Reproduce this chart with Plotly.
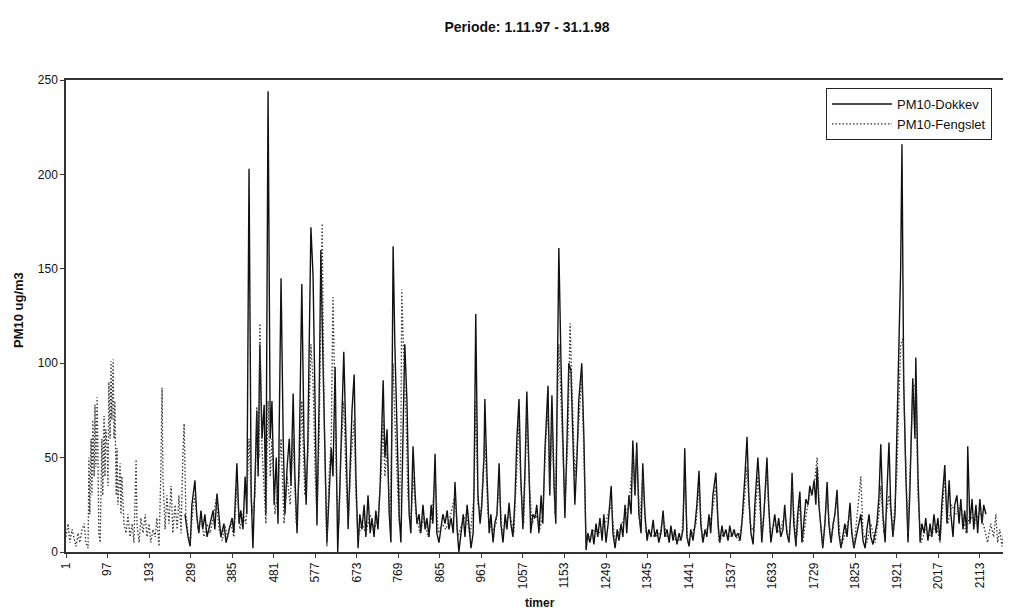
import plotly.graph_objects as go

# ---------------- data ----------------
tick_hours = list(range(1, 2114, 96))
tick_labels = [str(h) for h in tick_hours]
y_ticks = [0, 50, 100, 150, 200, 250]

dokkev_hours = [276, 283, 288, 292, 299, 303, 308, 313, 317, 322, 327, 334, 341, 345, 350, 355, 359, 366, 371, 378,
                385, 389, 396, 401, 405, 410, 415, 419, 424, 429, 433, 438, 442, 445, 449, 454, 459, 463, 468, 473,
                477, 482, 487, 491, 498, 503, 507, 512, 517, 521, 526, 530, 535, 540, 546, 551, 556, 560, 567, 572,
                577, 581, 586, 590, 595, 600, 604, 609, 614, 618, 623, 627, 629, 634, 639, 643, 648, 653, 657, 662,
                667, 671, 676, 680, 685, 690, 694, 699, 704, 708, 713, 717, 722, 727, 734, 738, 743, 748, 752, 757,
                761, 766, 771, 775, 780, 784, 789, 794, 798, 803, 808, 812, 817, 821, 826, 831, 835, 840, 845, 849,
                854, 858, 863, 868, 872, 877, 882, 886, 891, 896, 900, 905, 909, 914, 919, 923, 928, 932, 937, 942,
                944, 948, 953, 958, 962, 967, 969, 974, 979, 983, 988, 992, 997, 1002, 1006, 1011, 1016, 1020, 1025, 1029,
                1034, 1039, 1043, 1048, 1052, 1057, 1062, 1066, 1071, 1075, 1080, 1085, 1089, 1094, 1099, 1103, 1108, 1115, 1119, 1124,
                1129, 1133, 1135, 1140, 1145, 1149, 1154, 1159, 1163, 1168, 1173, 1177, 1182, 1186, 1193, 1198, 1203, 1207, 1212, 1217,
                1221, 1226, 1230, 1235, 1240, 1244, 1249, 1254, 1261, 1265, 1270, 1275, 1279, 1284, 1288, 1293, 1297, 1302, 1307, 1311,
                1316, 1320, 1325, 1330, 1334, 1339, 1344, 1348, 1353, 1358, 1362, 1367, 1371, 1376, 1381, 1385, 1390, 1395, 1399, 1404,
                1408, 1413, 1418, 1422, 1427, 1431, 1436, 1441, 1445, 1450, 1455, 1459, 1464, 1468, 1473, 1478, 1482, 1487, 1491, 1496,
                1503, 1508, 1512, 1517, 1521, 1526, 1531, 1535, 1540, 1545, 1549, 1554, 1559, 1563, 1570, 1575, 1579, 1584, 1589, 1593,
                1600, 1605, 1609, 1614, 1621, 1625, 1630, 1635, 1639, 1644, 1648, 1653, 1658, 1662, 1667, 1672, 1676, 1679, 1683, 1688,
                1692, 1697, 1702, 1706, 1711, 1716, 1720, 1725, 1730, 1734, 1737, 1741, 1746, 1750, 1755, 1760, 1764, 1769, 1774, 1778,
                1783, 1787, 1792, 1797, 1801, 1806, 1813, 1817, 1822, 1827, 1831, 1838, 1843, 1848, 1852, 1857, 1861, 1866, 1871, 1875,
                1880, 1884, 1889, 1894, 1898, 1903, 1907, 1912, 1917, 1921, 1926, 1930, 1933, 1937, 1942, 1947, 1951, 1956, 1958, 1963,
                1965, 1970, 1975, 1979, 1984, 1988, 1993, 1998, 2002, 2007, 2012, 2016, 2021, 2025, 2030, 2032, 2037, 2042, 2046, 2051,
                2055, 2060, 2065, 2069, 2074, 2078, 2083, 2085, 2090, 2095, 2099, 2104, 2108, 2113, 2118, 2122, 2127]
dokkev_values = [20, 8, 3, 25, 38, 20, 10, 22, 12, 20, 8, 15, 22, 12, 31, 18, 8, 15, 5, 12,
                 18, 10, 47, 15, 22, 12, 40, 20, 203, 30, 2, 40, 75, 40, 110, 60, 78, 20, 244, 60,
                 80, 25, 50, 15, 145, 60, 20, 45, 60, 35, 84, 40, 10, 50, 142, 60, 25, 60, 172, 146,
                 60, 14, 80, 160, 100, 40, 5, 30, 55, 40, 98, 30, 0, 35, 70, 106, 60, 12, 40, 75,
                 94, 40, 2, 20, 12, 25, 8, 30, 10, 18, 8, 22, 12, 35, 91, 50, 65, 20, 5, 162,
                 110, 60, 20, 5, 60, 110, 80, 20, 10, 56, 30, 15, 20, 10, 25, 12, 18, 8, 25, 15,
                 52, 10, 5, 12, 20, 15, 22, 12, 18, 10, 37, 12, 0, 10, 20, 8, 25, 15, 2, 10,
                 35, 126, 30, 15, 25, 50, 81, 40, 10, 20, 5, 15, 20, 47, 15, 5, 20, 12, 26, 15,
                 8, 30, 60, 81, 40, 12, 45, 85, 50, 10, 20, 18, 25, 10, 30, 15, 55, 88, 30, 83,
                 35, 15, 60, 161, 100, 60, 18, 60, 100, 96, 60, 25, 50, 80, 100, 60, 1, 10, 5, 12,
                 4, 15, 8, 18, 6, 20, 5, 15, 35, 10, 2, 12, 6, 15, 8, 25, 10, 30, 20, 59,
                 30, 58, 20, 10, 47, 20, 6, 12, 8, 17, 8, 12, 5, 10, 22, 8, 12, 5, 14, 6,
                 12, 4, 10, 6, 12, 55, 8, 3, 12, 6, 15, 25, 43, 15, 5, 12, 8, 20, 10, 30,
                 42, 15, 5, 14, 8, 12, 6, 14, 8, 12, 8, 10, 6, 15, 40, 61, 30, 10, 4, 25,
                 50, 30, 5, 20, 50, 25, 5, 15, 20, 10, 18, 8, 12, 25, 10, 5, 20, 42, 15, 3,
                 20, 32, 5, 15, 28, 25, 35, 30, 38, 25, 45, 25, 10, 2, 15, 37, 15, 5, 15, 20,
                 33, 10, 2, 10, 15, 8, 26, 10, 2, 8, 12, 20, 6, 2, 12, 20, 8, 4, 10, 15,
                 30, 57, 20, 5, 30, 58, 25, 8, 20, 60, 110, 150, 216, 90, 40, 5, 30, 75, 92, 60,
                 103, 40, 5, 15, 10, 18, 6, 15, 8, 20, 10, 18, 6, 25, 40, 46, 15, 38, 20, 8,
                 25, 30, 15, 28, 12, 22, 10, 56, 15, 28, 12, 25, 10, 28, 15, 25, 20]

fengslet_hours = [1, 6, 10, 15, 19, 24, 29, 33, 38, 43, 47, 52, 54, 56, 59, 61, 63, 66, 68, 70,
                  73, 75, 77, 80, 82, 84, 86, 89, 91, 93, 96, 98, 100, 103, 105, 107, 110, 112, 114, 117,
                  119, 121, 126, 128, 130, 135, 140, 144, 149, 154, 158, 163, 165, 170, 174, 179, 184, 188, 193, 197,
                  202, 207, 211, 216, 220, 223, 225, 230, 234, 239, 244, 248, 253, 258, 262, 267, 271, 274, 278, 283,
                  288, 294, 299, 306, 313, 320, 327, 334, 341, 348, 355, 362, 368, 375, 382, 389, 396, 403, 410, 417,
                  424, 431, 438, 442, 447, 449, 454, 459, 463, 468, 473, 477, 484, 491, 498, 505, 512, 519, 526, 533,
                  540, 546, 553, 560, 567, 572, 577, 581, 586, 593, 597, 602, 604, 609, 614, 618, 623, 627, 632, 636,
                  643, 648, 653, 660, 667, 671, 676, 685, 694, 704, 713, 722, 729, 734, 738, 743, 750, 757, 761, 766,
                  771, 775, 777, 782, 787, 791, 798, 803, 810, 819, 828, 838, 847, 854, 861, 870, 879, 888, 900, 907,
                  916, 926, 935, 944, 948, 953, 960, 969, 976, 986, 995, 1002, 1009, 1018, 1027, 1036, 1043, 1048, 1052, 1059,
                  1066, 1071, 1078, 1087, 1096, 1103, 1110, 1115, 1119, 1124, 1131, 1140, 1145, 1149, 1154, 1161, 1166, 1170, 1177, 1184,
                  1193, 1198, 1203, 1212, 1223, 1235, 1247, 1261, 1270, 1281, 1293, 1302, 1311, 1316, 1320, 1327, 1334, 1341, 1351, 1362,
                  1374, 1381, 1390, 1402, 1413, 1424, 1431, 1438, 1448, 1457, 1464, 1471, 1482, 1494, 1503, 1510, 1521, 1533, 1545, 1556,
                  1566, 1575, 1582, 1591, 1600, 1609, 1621, 1628, 1639, 1651, 1662, 1672, 1679, 1688, 1697, 1704, 1713, 1720, 1730, 1737,
                  1743, 1750, 1760, 1769, 1783, 1792, 1804, 1813, 1822, 1834, 1838, 1843, 1852, 1861, 1871, 1880, 1884, 1891, 1903, 1912,
                  1921, 1926, 1930, 1935, 1940, 1947, 1954, 1958, 1965, 1970, 1977, 1988, 2000, 2012, 2021, 2032, 2039, 2048, 2058, 2069,
                  2081, 2090, 2101, 2113, 2124, 2131, 2138, 2145, 2150, 2154, 2159, 2164, 2168, 2173, 2178, 2183]
fengslet_values = [8, 15, 5, 12, 8, 3, 10, 5, 12, 15, 5, 2, 50, 20, 60, 30, 70, 40, 78, 45,
                   82, 50, 10, 5, 40, 60, 30, 72, 40, 65, 55, 35, 90, 60, 101, 70, 102, 60, 80, 30,
                   55, 25, 47, 20, 40, 15, 10, 20, 8, 15, 5, 49, 15, 5, 18, 10, 20, 8, 15, 5,
                   12, 8, 18, 3, 40, 87, 40, 12, 30, 15, 35, 10, 25, 12, 30, 10, 50, 68, 20, 10,
                   5, 22, 30, 12, 18, 8, 15, 10, 18, 28, 12, 6, 14, 8, 15, 8, 35, 12, 20, 15,
                   60, 20, 30, 77, 50, 121, 55, 30, 15, 80, 40, 60, 20, 35, 60, 15, 40, 25, 60, 15,
                   40, 80, 30, 50, 110, 90, 40, 20, 60, 174, 80, 20, 3, 40, 60, 135, 70, 30, 15, 50,
                   80, 40, 15, 50, 70, 30, 8, 15, 10, 20, 12, 18, 40, 70, 40, 55, 15, 100, 70, 40,
                   15, 60, 139, 100, 70, 30, 15, 40, 20, 10, 18, 8, 20, 40, 10, 15, 12, 18, 30, 8,
                   15, 20, 8, 30, 80, 25, 20, 60, 20, 10, 15, 35, 10, 15, 20, 10, 50, 70, 35, 15,
                   75, 40, 15, 20, 12, 20, 60, 75, 30, 70, 20, 110, 80, 50, 25, 60, 121, 90, 40, 60,
                   95, 50, 5, 8, 12, 10, 15, 25, 5, 12, 20, 25, 50, 30, 55, 15, 40, 10, 10, 8,
                   10, 18, 8, 10, 5, 8, 35, 5, 10, 15, 35, 8, 12, 20, 35, 5, 10, 8, 10, 6,
                   20, 45, 15, 10, 40, 8, 42, 10, 15, 10, 20, 5, 35, 5, 25, 5, 22, 30, 35, 50,
                   20, 3, 30, 5, 28, 2, 12, 20, 2, 30, 40, 10, 5, 15, 5, 20, 35, 10, 30, 10,
                   40, 80, 110, 113, 60, 10, 60, 85, 90, 30, 5, 12, 8, 15, 5, 40, 15, 25, 20, 25,
                   10, 20, 15, 22, 12, 5, 15, 8, 20, 5, 12, 3, 10, 18, 28, 30]

# ---------------- figure ----------------
FONT = "Liberation Sans, Arial, Helvetica, sans-serif"
OFF = 8  # the page places the figure 8 px from the top-left corner

PLOT_L, PLOT_T, PLOT_W, PLOT_H = 66 - OFF, 80 - OFF, 945, 472
FIG_W, FIG_H = 1011 - OFF, 614 - OFF

fig = go.Figure()
fig.add_trace(go.Scatter(x=dokkev_hours, y=dokkev_values, mode="lines", name="PM10-Dokkev",
                         line=dict(color="#111111", width=1.4)))
fig.add_trace(go.Scatter(x=fengslet_hours, y=fengslet_values, mode="lines", name="PM10-Fengslet",
                         line=dict(color="#333333", width=1.3, dash="1.5px,2px")))

fig.update_layout(
    width=FIG_W, height=FIG_H,
    margin=dict(l=PLOT_L, r=FIG_W - PLOT_L - PLOT_W, t=PLOT_T, b=FIG_H - PLOT_T - PLOT_H),
    paper_bgcolor="white", plot_bgcolor="white",
    font=dict(family=FONT, color="#111111", size=12),
    title=dict(text="<b>Periode: 1.11.97 - 31.1.98</b>", x=(527 - OFF) / FIG_W, xanchor="center",
               y=1 - (27 - OFF) / FIG_H, yanchor="middle", yref="container",
               font=dict(family=FONT, size=14, color="#111111")),
    showlegend=True,
    legend=dict(x=(826 - 66) / PLOT_W, y=(552 - 88) / PLOT_H, xanchor="left", yanchor="top",
                bordercolor="#222222", borderwidth=1, bgcolor="white",
                font=dict(family=FONT, size=13, color="#111111"),
                tracegroupgap=0, itemwidth=60),
    xaxis=dict(range=[1, 2185], tickmode="array", tickvals=tick_hours, ticktext=tick_labels,
               tickangle=-90, ticks="outside", ticklen=4, tickcolor="#333333",
               showline=True, linecolor="#333333", linewidth=1.5, mirror=True,
               showgrid=False, zeroline=False, tickfont=dict(size=12)),
    yaxis=dict(range=[0, 250], tickmode="array", tickvals=y_ticks,
               ticks="outside", ticklen=4, tickcolor="#333333",
               showline=True, linecolor="#333333", linewidth=1.5,
               showgrid=False, zeroline=False, tickfont=dict(size=12)),
    annotations=[
        dict(text="<b>PM10 ug/m3</b>", xref="paper", yref="paper", x=(18 - 66) / PLOT_W, y=(552 - 310) / PLOT_H,
             xanchor="center", yanchor="middle", textangle=-90, showarrow=False,
             font=dict(family=FONT, size=13, color="#111111")),
        dict(text="<b>timer</b>", xref="paper", yref="paper", x=(540 - 66) / PLOT_W, y=(552 - 603) / PLOT_H,
             xanchor="center", yanchor="middle", showarrow=False,
             font=dict(family=FONT, size=12, color="#111111")),
    ],
)

fig.write_html("out.html")
